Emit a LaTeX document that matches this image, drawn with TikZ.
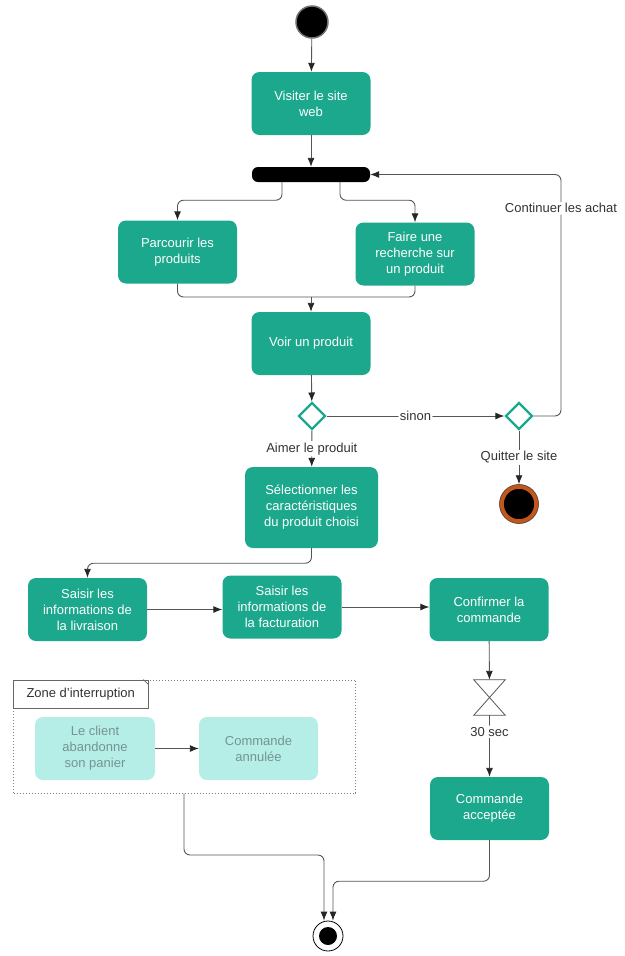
\documentclass[tikz,border=0pt]{standalone}
\usepackage{fontspec}
\setmainfont{Liberation Sans}
\usetikzlibrary{arrows.meta,shapes.geometric,calc}
\definecolor{actfill}{HTML}{1BA88C}
\definecolor{softfill}{HTML}{B5EEE7}
\definecolor{softtext}{HTML}{76948F}
\definecolor{wire}{HTML}{555555}
\definecolor{ring}{HTML}{C4561C}
\begin{document}
\begin{tikzpicture}[x=1pt,y=-1pt,
  every node/.style={font=\fontsize{13}{16}\selectfont},
  act/.style={rectangle, rounded corners=8pt, fill=actfill, text=white,
    align=center, inner sep=2pt, minimum width=119pt, minimum height=63pt},
  soft/.style={act, fill=softfill, text=softtext},
  forkbar/.style={rectangle, rounded corners=6pt, fill=black, minimum width=118pt,
    minimum height=15pt, inner sep=0pt},
  decision/.style={diamond, draw=actfill, line width=2.4pt, fill=white,
    minimum width=27pt, minimum height=27pt, inner sep=0pt},
  initial/.style={circle, fill=black, draw=black!55, line width=1.5pt,
    minimum size=32pt, inner sep=0pt},
  flow/.style={draw=wire, line width=0.9pt, rounded corners=6pt,
    -{Latex[length=9pt,width=7pt,color=black!85]}},
  plain/.style={draw=wire, line width=0.9pt, rounded corners=6pt},
  lbl/.style={fill=white, text=black!80, inner sep=1.5pt},
]
\useasboundingbox (0,0) rectangle (624,956);

% initial node
\node[initial] (start) at (312,22) {};

% activities
\node[act] (visit) at (311,103.5) {Visiter le site\\web};
\node[forkbar] (fork) at (311,174.5) {};
\node[act] (browse) at (177.5,252) {Parcourir les\\produits};
\node[act] (search) at (415,254) {Faire une\\recherche sur\\un produit};
\node[act] (view) at (311,343.5) {Voir un produit};
\node[decision] (d1) at (312,416) {};
\node[decision] (d2) at (519,416) {};
\node[act, minimum width=133pt, minimum height=81pt] (select) at (311.5,507.5)
  {Sélectionner les\\caractéristiques\\du produit choisi};
\node[act] (ship) at (87.5,609.5) {Saisir les\\informations de\\la livraison};
\node[act] (bill) at (282,607) {Saisir les\\informations de\\la facturation};
\node[act] (confirm) at (489,609.5) {Confirmer la\\commande};
\node[act] (accept) at (489.5,808.5) {Commande\\acceptée};

% quit site: final node with orange ring
\node[circle, fill=black, draw=ring, line width=4.5pt, minimum size=35pt,
  inner sep=0pt] (quit) at (519,504) {};
\draw[black!70, line width=0.6pt] (quit) circle (19.5pt);

% time event (hourglass)
\node[minimum width=31pt, minimum height=35pt, inner sep=0pt] (timer) at (489.5,697.5) {};
\draw[wire, line width=0.8pt, line join=miter]
  (timer.north west) -- (timer.north east) -- (timer.south west)
  -- (timer.south east) -- cycle;

% interruptible region
\node[draw=black!50, dotted, line width=1pt, minimum width=342pt,
  minimum height=113pt, inner sep=0pt] (zone) at (184.5,736.5) {};
\node[draw=black!60, fill=white, anchor=north west, minimum width=135pt,
  minimum height=28pt, inner sep=3pt, text=black!80] (zlabel) at (zone.north west)
  {Zone d'interruption};
\draw[black!60, line width=0.6pt] ([xshift=-5pt]zlabel.north east) -- ([yshift=-5pt]zlabel.north east);
\node[soft, minimum width=120pt] (abandon) at (95,748.5) {Le client\\abandonne\\son panier};
\node[soft] (cancel) at (258.5,748.5) {Commande\\annulée};

% final node
\node[circle, draw=black, line width=0.8pt, fill=white, minimum size=30pt,
  inner sep=0pt] (end) at (328,936) {};
\node[circle, fill=black, minimum size=18pt, inner sep=0pt] (endcore) at (end) {};

% connectors
\draw[flow] (start) -- (visit);
\draw[flow] (visit) -- (fork);
\draw[flow] ([xshift=-29pt]fork.south) -- ++(0,18) -| (browse.north);
\draw[flow] ([xshift=29pt]fork.south) -- ++(0,18) -| (search.north);
\coordinate (merge) at (311,297);
\draw[plain] (browse.south) |- (merge) -| (search.south);
\draw[flow] (merge) -- (view.north);
\draw[flow] (view) -- (d1);
\draw[flow] (d1) -- node[lbl] {sinon} (d2);
\draw[flow] (d2.east) -- (561,416) |- node[lbl, pos=0.43] {Continuer les achat} (fork.east);
\draw[flow] (d2) -- node[lbl] {Quitter le site} (quit);
\draw[flow] (d1) -- node[lbl] {Aimer le produit} (select);
\draw[flow] (select.south) -- ++(0,15) -| (ship.north);
\draw[flow] (ship.east) -- (ship.east -| bill.west);
\draw[flow] (bill.east) -- (bill.east -| confirm.west);
\draw[flow] (confirm) -- (timer);
\draw[flow] (timer.south) -- node[lbl, pos=0.27] {30 sec} (accept.north);
\draw[flow] (abandon) -- (cancel);
\draw[flow] (zone.south -| 184,0) -- (184,855) -| ([xshift=-4pt]end.north);
\draw[flow] (accept.south) -- ++(0,41) -| ([xshift=5pt]end.north);
\end{tikzpicture}
\end{document}
